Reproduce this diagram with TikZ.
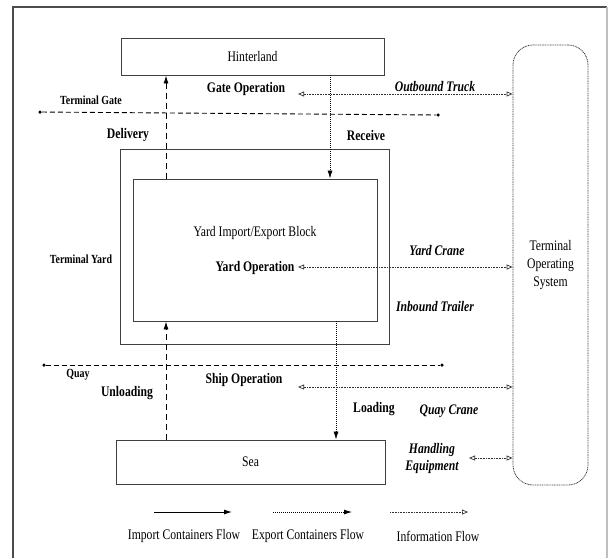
\documentclass[tikz,border=0pt]{standalone}
\usepackage{fontspec}
\setmainfont{Liberation Serif}[FakeStretch=0.8]
\usetikzlibrary{arrows.meta,calc}
\begin{document}
\begin{tikzpicture}[x=1pt,y=-1pt,
 box/.style={draw=black!75, line width=0.9pt, rectangle, inner sep=0pt},
 lbl/.style={font=\fontsize{14.6}{16}\selectfont\bfseries, inner sep=0pt},
 ilbl/.style={font=\fontsize{14.6}{17}\selectfont\bfseries\itshape, inner sep=0pt, align=center},
 slbl/.style={font=\fontsize{12.4}{14}\selectfont\bfseries, inner sep=0pt},
 txt/.style={font=\fontsize{14.6}{18}\selectfont, inner sep=0pt, align=center},
 imp/.style={line width=0.9pt, dash pattern=on 6pt off 4pt, -{Latex[length=8pt,width=5pt]}},
 impleg/.style={line width=0.9pt, -{Latex[length=8pt,width=5pt]}},
 expo/.style={line width=0.8pt, dash pattern=on 1pt off 1pt, -{Latex[length=8pt,width=5pt]}},
 info/.style={line width=0.7pt, black!80, dash pattern=on 1pt off 0.6pt, {Triangle[open,length=6pt,width=5pt]}-{Triangle[open,length=6pt,width=5pt]}},
 infoleg/.style={line width=0.7pt, black!80, dash pattern=on 1pt off 0.6pt, -{Triangle[open,length=6pt,width=5pt]}},
 bound/.style={line width=0.9pt, dash pattern=on 5pt off 3pt},
 dotend/.style={circle, fill=black, inner sep=0pt, minimum size=3.5pt}
]
\useasboundingbox (0,0) rectangle (609,558);
% frame
\draw[black!70, line width=1.2pt] (13,558) -- (13,7) -- (607,7);
\draw[black!25, line width=1.2pt] (607,7) -- (607,558);

% boxes
\node[box, minimum width=263pt, minimum height=37pt, font=\fontsize{14.6}{16}\selectfont] (hin) at (252.5,56.5) {Hinterland};
\node[box, minimum width=269pt, minimum height=195pt] (yard) at (254.5,246.5) {};
\node[box, minimum width=244pt, minimum height=142pt] (inner) at (255,250) {};
\node[box, minimum width=269pt, minimum height=44pt, font=\fontsize{14.6}{16}\selectfont] (sea) at (250.5,462) {Sea};
\node[draw=black!75, line width=0.8pt, dash pattern=on 1pt off 0.7pt, rounded corners=20pt, minimum width=75pt, minimum height=440pt, txt] (tos) at (550.5,265) {Terminal\\Operating\\System};

% boundary lines
\node[dotend] (g1) at (40,112) {};
\node[dotend] (g2) at (438,115) {};
\draw[bound] (g1) -- (g2);
\node[dotend] (q1) at (44,365) {};
\node[dotend] (q2) at (442,365) {};
\draw[bound] (q1) -- (q2);

% labels
\node[lbl] (gateop) at (246,89) {Gate Operation};
\node[ilbl] (outtruck) at (435,87) {Outbound Truck};
\node[slbl] (tgate) at (91,100) {Terminal Gate};
\node[lbl] (deliv) at (128,135) {Delivery};
\node[lbl] (recv) at (366,135) {Receive};
\node[txt] (yblock) at (255,233) {Yard Import/Export Block};
\node[lbl] (yardop) at (255,268) {Yard Operation};
\node[ilbl] (ycrane) at (437,250) {Yard Crane};
\node[slbl] (tyard) at (81,259) {Terminal Yard};
\node[ilbl] (itrail) at (435,307) {Inbound Trailer};
\node[slbl] (quay) at (78,375) {Quay};
\node[lbl] (shipop) at (244,380) {Ship Operation};
\node[lbl] (unload) at (127,393) {Unloading};
\node[lbl] (load) at (374,409) {Loading};
\node[ilbl] (qcrane) at (449,411) {Quay Crane};
\node[ilbl] (heq) at (432,458) {Handling\\Equipment};

% container flows
\coordinate (ix) at (166,0);
\coordinate (ex1) at (330,0);
\coordinate (ex2) at (336,0);
\draw[imp] (inner.north -| ix) -- (hin.south -| ix);
\draw[imp] (sea.north -| ix) -- (inner.south -| ix);
\draw[expo] (hin.south -| ex1) -- (inner.north -| ex1);
\draw[expo] (inner.south -| ex2) -- (sea.north -| ex2);

% information flows
\coordinate (a1) at (298,94);
\coordinate (a2) at (298,267);
\coordinate (a3) at (298,387);
\coordinate (a4) at (469,458);
\draw[info] (a1) -- (a1 -| tos.west);
\draw[info] (a2) -- (a2 -| tos.west);
\draw[info] (a3) -- (a3 -| tos.west);
\draw[info] (a4) -- (a4 -| tos.west);

% legend
\coordinate (l1s) at (154,512); \coordinate (l1e) at (232,512);
\coordinate (l2s) at (273,512); \coordinate (l2e) at (352,512);
\coordinate (l3s) at (390,512); \coordinate (l3e) at (468,512);
\draw[impleg] (l1s) -- (l1e);
\draw[expo] (l2s) -- (l2e);
\draw[infoleg] (l3s) -- (l3e);
\node[txt] (leg1) at (184,536) {Import Containers Flow};
\node[txt] (leg2) at (308,536) {Export Containers Flow};
\node[txt] (leg3) at (438,536) {Information Flow};
\end{tikzpicture}
\end{document}
